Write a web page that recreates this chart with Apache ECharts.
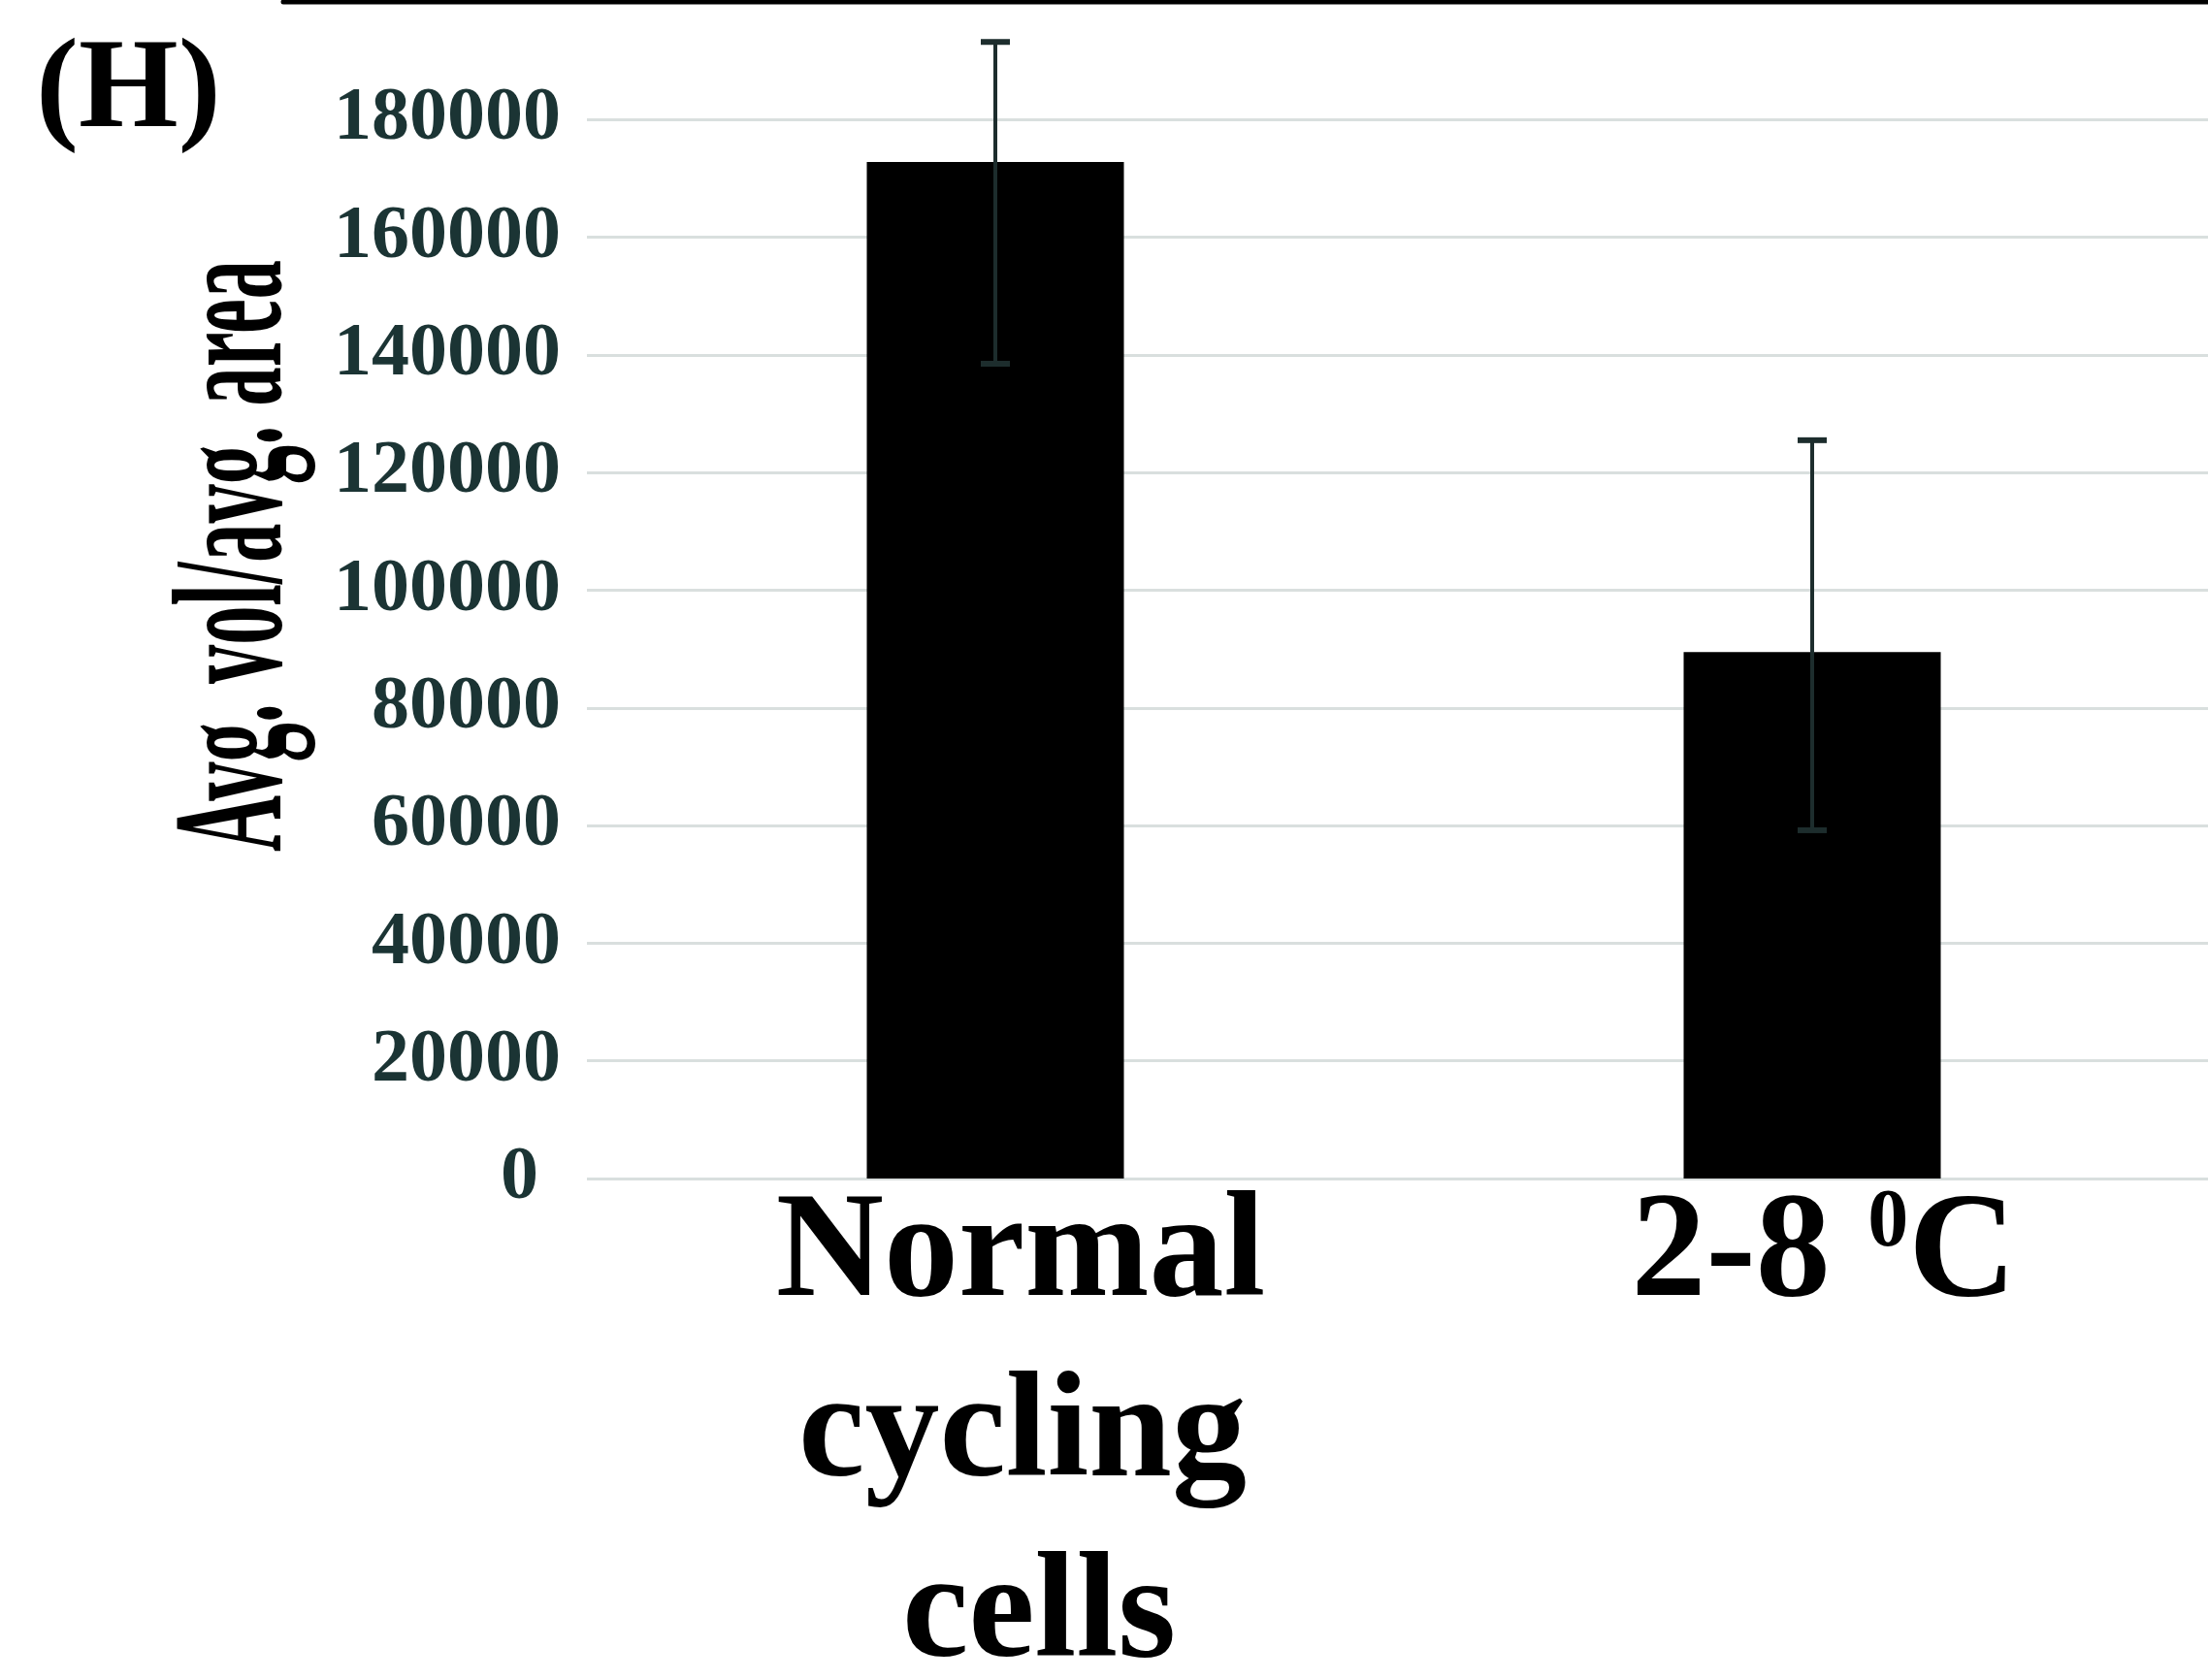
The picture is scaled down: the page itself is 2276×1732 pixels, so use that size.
<!DOCTYPE html>
<html><head><meta charset="utf-8">
<script src="https://cdn.jsdelivr.net/npm/echarts@6/dist/echarts.min.js"></script>
<style>html,body{margin:0;padding:0;background:#fff}#c{width:2276px;height:1732px}</style>
</head><body><div id="c"></div>
<script>
// ---- data ----
const categories = ['Normal\ncycling\ncells', '2-8 0C'];
const meanValues = [172800, 89500];
const errLow = [138500, 59200];
const errHigh = [193200, 125500];
const yMin = 0, yMax = 180000, yInterval = 20000;
const panelLabel = '(H)';
const yTitle = 'Avg. vol/avg. area';

const FONT = '"Liberation Serif", "Times New Roman", serif';
const chart = echarts.init(document.getElementById('c'), null, {renderer: 'canvas'});

const TITLE_FS = 162;
const cv = document.createElement('canvas').getContext('2d');
cv.font = 'bold ' + TITLE_FS + 'px "Liberation Serif"';
const titleScale = 610 / cv.measureText(yTitle).width;

const errData = categories.map((c, i) => [i, errLow[i], errHigh[i]]);

const base = {fontFamily: FONT, fontWeight: 'bold', fontSize: 154, lineHeight: 186, color: '#000'};

const option = {
  animation: false,
  backgroundColor: '#fff',
  grid: {left: 605, width: 1684, top: 123.3, bottom: 517, containLabel: false, outerBoundsMode: 'none'},
  xAxis: {
    type: 'category', data: categories,
    axisLine: {show: false}, axisTick: {show: false},
    axisLabel: Object.assign({
      interval: 0, margin: -13,
      formatter: v => {
        if (v.startsWith('2-8')) return '{d|2-8 }{s|0}{n|C}';
        const p = v.split('\n');
        return '{a|' + p[0] + '}\n{b|' + p[1] + '}\n{c|' + p[2] + '}';
      },
      rich: {
        n: Object.assign({}, base),
        d: Object.assign({}, base, {padding: [0, 0, 0, 24]}),
        a: Object.assign({}, base, {padding: [0, 0, 0, 52]}),
        b: Object.assign({}, base, {padding: [0, 0, 0, 56]}),
        c: Object.assign({}, base, {padding: [0, 0, 0, 90]}),
        s: {fontFamily: FONT, fontWeight: 'bold', fontSize: 84, color: '#000', verticalAlign: 'top', padding: [18, 0, 0, 0]}
      }
    }, base)
  },
  yAxis: {
    type: 'value', min: yMin, max: yMax, interval: yInterval,
    axisLine: {show: false}, axisTick: {show: false},
    splitLine: {lineStyle: {color: '#d9dfde', width: 3}},
    axisLabel: {
      margin: 27, fontFamily: FONT, fontWeight: 'bold', fontSize: 78, color: '#1b3434',
      formatter: v => v === 0 ? '{z|0}' : String(v),
      rich: {z: {fontFamily: FONT, fontWeight: 'bold', fontSize: 78, color: '#1b3434', padding: [0, 23, 0, 0]}}
    }
  },
  series: [
    {type: 'bar', data: meanValues, barWidth: 265, itemStyle: {color: '#000'}, z: 2},
    {
      type: 'custom', data: errData, clip: false, z: 3,
      encode: {x: 0, y: [1, 2]},
      renderItem: (params, api) => {
        const x = api.value(0);
        const lo = api.coord([x, api.value(1)]);
        const hi = api.coord([x, api.value(2)]);
        const hw = 15, col = '#1d2d2d';
        return {type: 'group', children: [
          {type: 'line', shape: {x1: lo[0], y1: lo[1], x2: hi[0], y2: hi[1]}, style: {stroke: col, lineWidth: 4}},
          {type: 'line', shape: {x1: hi[0] - hw, y1: hi[1], x2: hi[0] + hw, y2: hi[1]}, style: {stroke: col, lineWidth: 6}},
          {type: 'line', shape: {x1: lo[0] - hw, y1: lo[1], x2: lo[0] + hw, y2: lo[1]}, style: {stroke: col, lineWidth: 6}}
        ]};
      }
    }
  ],
  graphic: [
    {type: 'line', shape: {x1: 292, y1: 2, x2: 2280, y2: 2}, style: {stroke: '#000', lineWidth: 5, lineCap: 'round'}},
    {type: 'text', x: 37, y: 96, style: {text: panelLabel, font: 'bold 132px ' + FONT, fill: '#000', align: 'left', verticalAlign: 'middle'}},
    {type: 'text', x: 247, y: 573, rotation: Math.PI / 2, scaleX: titleScale, scaleY: 1,
      style: {text: yTitle, font: 'bold ' + TITLE_FS + 'px ' + FONT, fill: '#000', align: 'center', verticalAlign: 'middle'}}
  ]
};
chart.setOption(option);
</script>
</body></html>
